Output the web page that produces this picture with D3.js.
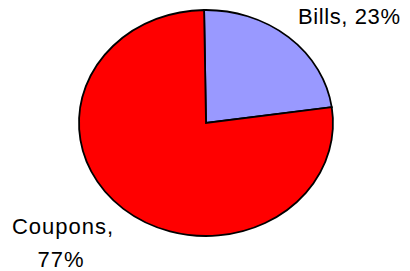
<!DOCTYPE html>
<html><head><meta charset="utf-8">
<script src="https://cdn.jsdelivr.net/npm/d3@7"></script>
<style>html,body{margin:0;padding:0;background:#fff;}</style>
</head><body>
<svg id="chart" width="410" height="271"></svg>
<script>
const categories = ["Bills", "Coupons"];
const values = [23, 77];
const colors = ["#9999FF", "#FF0000"];

const svg = d3.select("#chart");
const cx = 206, cy = 123, rx = 127, ry = 113;

const pie = d3.pie().sort(null).value(d => d.v).startAngle(-0.015).endAngle(2 * Math.PI - 0.015);
const data = categories.map((c, i) => ({c, v: values[i], col: colors[i]}));
const arcs = pie(data);
const arc = d3.arc().innerRadius(0).outerRadius(1);

const g = svg.append("g").attr("transform", `translate(${cx},${cy}) scale(${rx},${ry})`);
g.selectAll("path").data(arcs).join("path")
  .attr("d", arc)
  .attr("fill", d => d.data.col)
  .attr("stroke", "#000")
  .attr("stroke-width", 1.8)
  .attr("vector-effect", "non-scaling-stroke")
  .attr("stroke-linejoin", "miter");

const font = "Liberation Sans, Arial, sans-serif";
svg.append("text")
  .attr("x", 298).attr("y", 24)
  .attr("font-family", font).attr("font-size", 22).attr("letter-spacing", 0.6)
  .attr("fill", "#000")
  .text(`${categories[0]}, ${values[0]}%`);

const t = svg.append("text")
  .attr("font-family", font).attr("font-size", 22).attr("letter-spacing", 1)
  .attr("fill", "#000").attr("text-anchor", "middle");
t.append("tspan").attr("x", 63).attr("y", 234).text(`${categories[1]},`);
t.append("tspan").attr("x", 61).attr("y", 266.5).text(`${values[1]}%`);
</script>
</body></html>
